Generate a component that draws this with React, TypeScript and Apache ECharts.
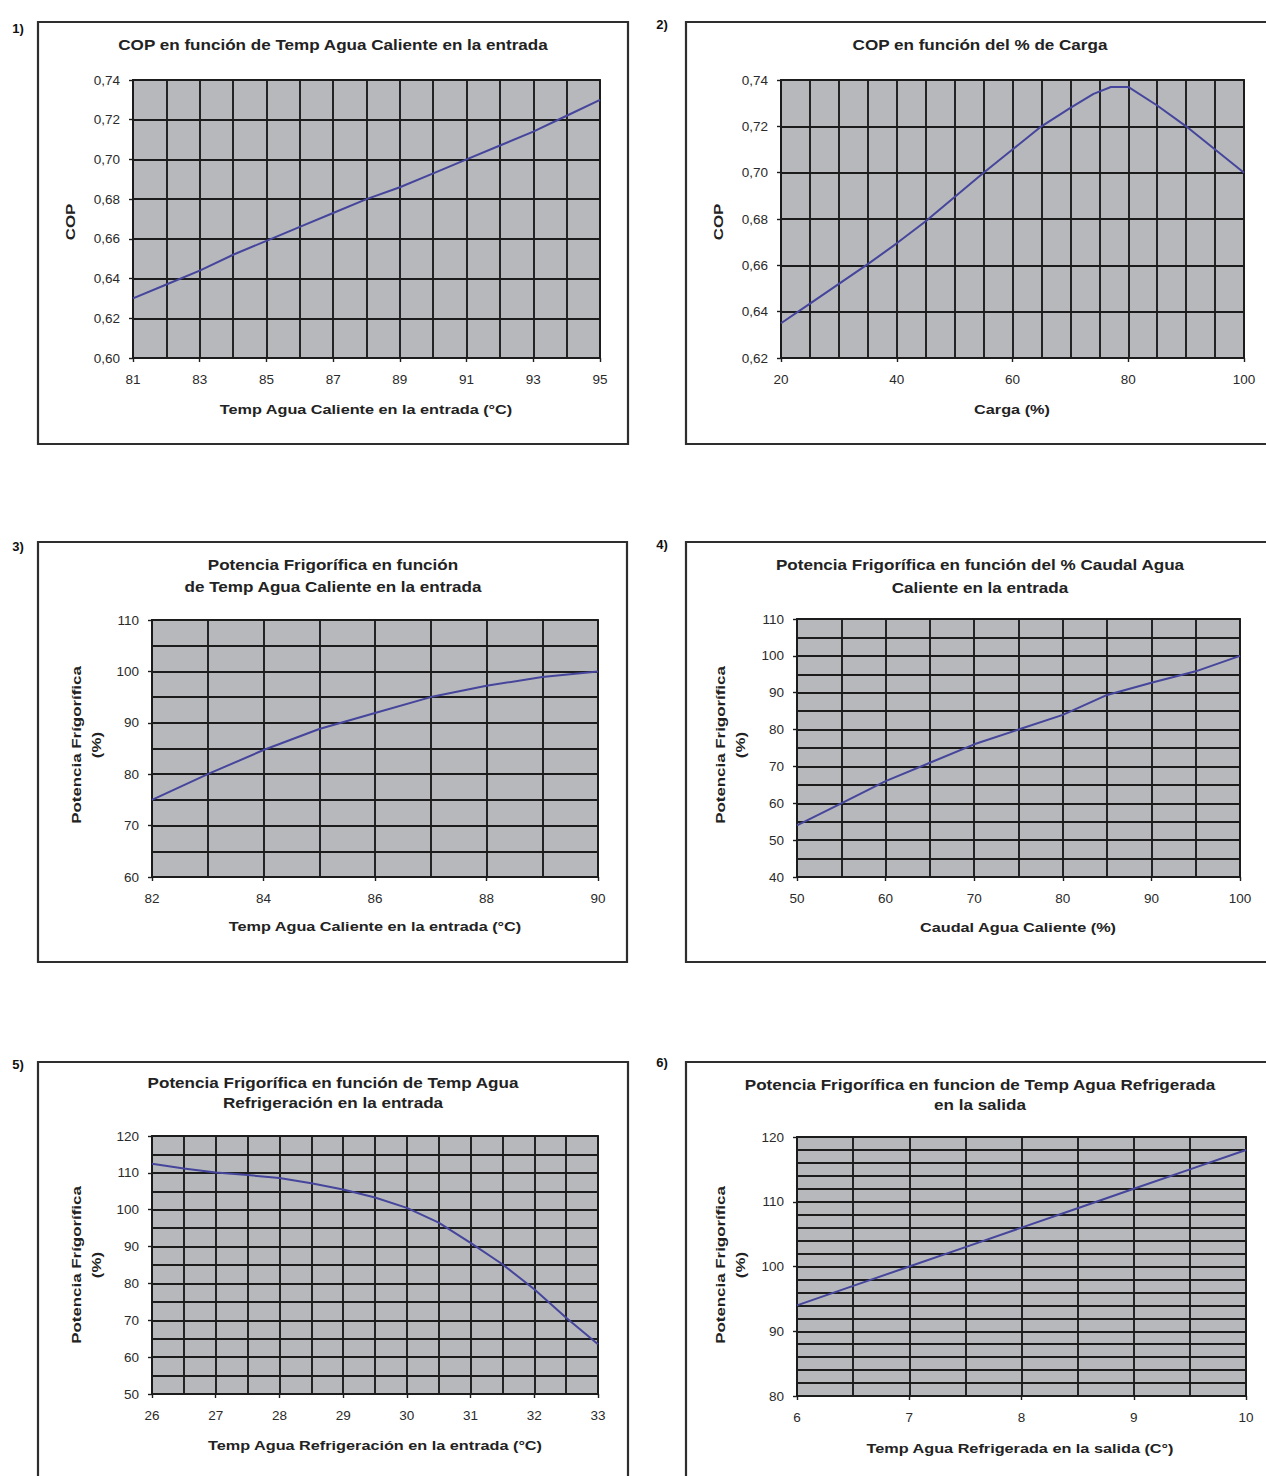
import React, { useEffect, useRef } from "react";
import * as echarts from "echarts";

// ---- Data ----
const c1X = [81, 82, 83, 84, 85, 86, 87, 88, 89, 90, 91, 92, 93, 94, 95];
const c1Y = [0.630, 0.637, 0.644, 0.652, 0.659, 0.666, 0.673, 0.680, 0.686, 0.693, 0.700, 0.707, 0.714, 0.722, 0.730];

const c2X = [20, 25, 30, 35, 40, 45, 50, 55, 60, 65, 70, 74, 77, 80, 85, 90, 95, 100];
const c2Y = [0.635, 0.6435, 0.652, 0.6605, 0.6695, 0.679, 0.6895, 0.700, 0.710, 0.720, 0.728, 0.734, 0.737, 0.737, 0.729, 0.720, 0.710, 0.700];

const c3X = [82, 83, 84, 85, 86, 87, 88, 89, 90];
const c3Y = [75, 80, 84.7, 88.8, 91.9, 95, 97.2, 98.9, 100];

const c4X = [50, 55, 60, 65, 70, 75, 80, 85, 90, 95, 100];
const c4Y = [54, 60, 66, 71, 76, 80, 84, 89.4, 92.7, 95.8, 100];

const c5X = [26, 26.5, 27, 27.5, 28, 28.5, 29, 29.5, 30, 30.5, 31, 31.5, 32, 32.5, 33];
const c5Y = [112.5, 111.2, 110.1, 109.4, 108.6, 107.2, 105.5, 103.3, 100.5, 96.5, 91, 85.2, 78.4, 70.7, 63.5];

const c6X = [6, 6.5, 7, 7.5, 8, 8.5, 9, 9.5, 10];
const c6Y = [94, 97, 100, 103, 106, 109, 112, 115, 118];

const titles = [
  ["COP en función de Temp Agua Caliente en la entrada"],
  ["COP en función del % de Carga"],
  ["Potencia Frigorífica en función", "de Temp Agua Caliente en la entrada"],
  ["Potencia Frigorífica en función del % Caudal Agua", "Caliente en la entrada"],
  ["Potencia Frigorífica en función de Temp Agua", "Refrigeración en la entrada"],
  ["Potencia Frigorífica en funcion de Temp Agua Refrigerada", "en la salida"],
];
const xNames = [
  "Temp Agua Caliente en la entrada (°C)",
  "Carga (%)",
  "Temp Agua Caliente en la entrada (°C)",
  "Caudal Agua Caliente (%)",
  "Temp Agua Refrigeración en la entrada (°C)",
  "Temp Agua Refrigerada en la salida (C°)",
];
const yNames = [
  ["COP"],
  ["COP"],
  ["Potencia Frígorífica", "(%)"],
  ["Potencia Frigorífica", "(%)"],
  ["Potencia Frígorífica", "(%)"],
  ["Potencia Frigorífica", "(%)"],
];
const panelLabels = ["1)", "2)", "3)", "4)", "5)", "6)"];

// axis specs: [min, max, labelStep, minorSplits]
const xSpecs = [
  [81, 95, 2, 2],
  [20, 100, 20, 4],
  [82, 90, 2, 2],
  [50, 100, 10, 2],
  [26, 33, 1, 2],
  [6, 10, 1, 2],
];
const ySpecs = [
  [0.6, 0.74, 0.02, 1],
  [0.62, 0.74, 0.02, 1],
  [60, 110, 10, 2],
  [40, 110, 10, 2],
  [50, 120, 10, 2],
  [80, 120, 10, 5],
];

const FONT = "'Liberation Sans', Arial, sans-serif";
const GRID_BG = "#b7b8bc";
const LINE_DARK = "#1c1c1c";
const SERIES_COLOR = "#45459c";

// layout
const grids = [
  { left: 133, top: 80, width: 467, height: 278 },
  { left: 781, top: 80, width: 463, height: 278 },
  { left: 152, top: 620, width: 446, height: 257 },
  { left: 797, top: 619, width: 443, height: 258 },
  { left: 152, top: 1136, width: 446, height: 258 },
  { left: 797, top: 1137, width: 449, height: 259 },
];
const boxes = [
  { x: 38, y: 22, w: 590, h: 422 },
  { x: 686, y: 22, w: 600, h: 422 },
  { x: 38, y: 542, w: 589, h: 420 },
  { x: 686, y: 542, w: 600, h: 420 },
  { x: 38, y: 1062, w: 590, h: 440 },
  { x: 686, y: 1062, w: 600, h: 440 },
];
const panelPos = [
  [18, 28], [662, 24], [18, 546], [662, 544], [18, 1064], [662, 1062],
];
const titlePos = [
  [333, 45], [980, 45], [333, 565], [980, 565], [333, 1083], [980, 1085],
];
const titleLineGap = [0, 0, 22, 23, 20, 20];
const xNamePos = [
  [366, 410], [1012, 410], [375, 927], [1018, 928], [375, 1446], [1020, 1449],
];
const yNamePos = [
  [70, 222], [718, 222], [76, 745], [720, 745], [76, 1265], [720, 1265],
];

const allX = [c1X, c2X, c3X, c4X, c5X, c6X];
const allY = [c1Y, c2Y, c3Y, c4Y, c5Y, c6Y];

function isLabel(v: number, min: number, step: number) {
  const k = (v - min) / step;
  return Math.abs(k - Math.round(k)) < 1e-6;
}

function makeAxis(spec: number[], gridIndex: number, isY: boolean, comma: boolean) {
  const [min, max, step, minor] = spec;
  return {
    type: "value",
    gridIndex,
    min,
    max,
    interval: step,
    axisLine: { show: true, onZero: false, lineStyle: { color: LINE_DARK, width: 1.8 } },
    axisTick: { show: true, length: 4, lineStyle: { color: LINE_DARK, width: 1.4 } },
    axisLabel: {
      show: true,
      margin: isY ? 13 : 14,
      color: "#2a2a2a",
      fontFamily: FONT,
      fontSize: 13.5,
      formatter: (v: number) => {
        if (!isLabel(v, min, step)) return "";
        return comma ? v.toFixed(2).replace(".", ",") : String(Math.round(v * 100) / 100);
      },
    },
    splitLine: { show: true, lineStyle: { color: LINE_DARK, width: 1.9 } },
    minorTick: { show: false, splitNumber: minor },
    minorSplitLine: { show: minor > 1, lineStyle: { color: LINE_DARK, width: 1.9 } },
  };
}

export default function App() {
  const ref = useRef<HTMLDivElement>(null);
  useEffect(() => {
    if (!ref.current) return;
    const chart = echarts.init(ref.current, undefined, { renderer: "svg" });

    const graphic: any[] = [];
    boxes.forEach((b) => {
      graphic.push({
        type: "rect",
        shape: { x: b.x, y: b.y, width: b.w, height: b.h },
        style: { fill: "#ffffff", stroke: "#2e2e2e", lineWidth: 2.2 },
        z: -10,
      });
    });
    panelLabels.forEach((t, i) => {
      graphic.push({
        type: "text",
        x: panelPos[i][0],
        y: panelPos[i][1],
        style: { text: t, fontFamily: FONT, fontSize: 13, fontWeight: "bold", fill: "#111", align: "center", verticalAlign: "middle" },
      });
    });
    titles.forEach((lines, i) => {
      lines.forEach((ln, j) => {
        graphic.push({
          type: "text",
          x: titlePos[i][0],
          y: titlePos[i][1] + j * titleLineGap[i],
          scaleX: 1.22,
          style: { text: ln, fontFamily: FONT, fontSize: 14, fontWeight: "bold", fill: "#222", align: "center", verticalAlign: "middle" },
        });
      });
    });
    xNames.forEach((t, i) => {
      graphic.push({
        type: "text",
        x: xNamePos[i][0],
        y: xNamePos[i][1],
        scaleX: 1.25,
        style: { text: t, fontFamily: FONT, fontSize: 13, fontWeight: "bold", fill: "#222", align: "center", verticalAlign: "middle" },
      });
    });
    yNames.forEach((lines, i) => {
      lines.forEach((ln, j) => {
        graphic.push({
          type: "text",
          x: yNamePos[i][0] + j * 20,
          y: yNamePos[i][1],
          rotation: Math.PI / 2,
          scaleX: 1.3,
          style: { text: ln, fontFamily: FONT, fontSize: 13, fontWeight: "bold", fill: "#222", align: "center", verticalAlign: "middle" },
        });
      });
    });

    const option: any = {
      animation: false,
      backgroundColor: "#ffffff",
      grid: grids.map((g) => ({
        ...g,
        show: true,
        backgroundColor: GRID_BG,
        borderColor: LINE_DARK,
        borderWidth: 1.8,
        outerBoundsMode: "none",
        containLabel: false,
      })),
      xAxis: xSpecs.map((s, i) => makeAxis(s, i, false, false)),
      yAxis: ySpecs.map((s, i) => makeAxis(s, i, true, i < 2)),
      series: allX.map((xs, i) => ({
        type: "line",
        xAxisIndex: i,
        yAxisIndex: i,
        data: xs.map((x, k) => [x, allY[i][k]]),
        showSymbol: false,
        symbol: "none",
        smooth: false,
        lineStyle: { color: SERIES_COLOR, width: 2 },
        z: 5,
      })),
      graphic,
    };
    chart.setOption(option);
    return () => chart.dispose();
  }, []);
  return (
    <div
      ref={ref}
      style={{ position: "absolute", left: 0, top: 0, width: 1266, height: 1476 }}
    />
  );
}
